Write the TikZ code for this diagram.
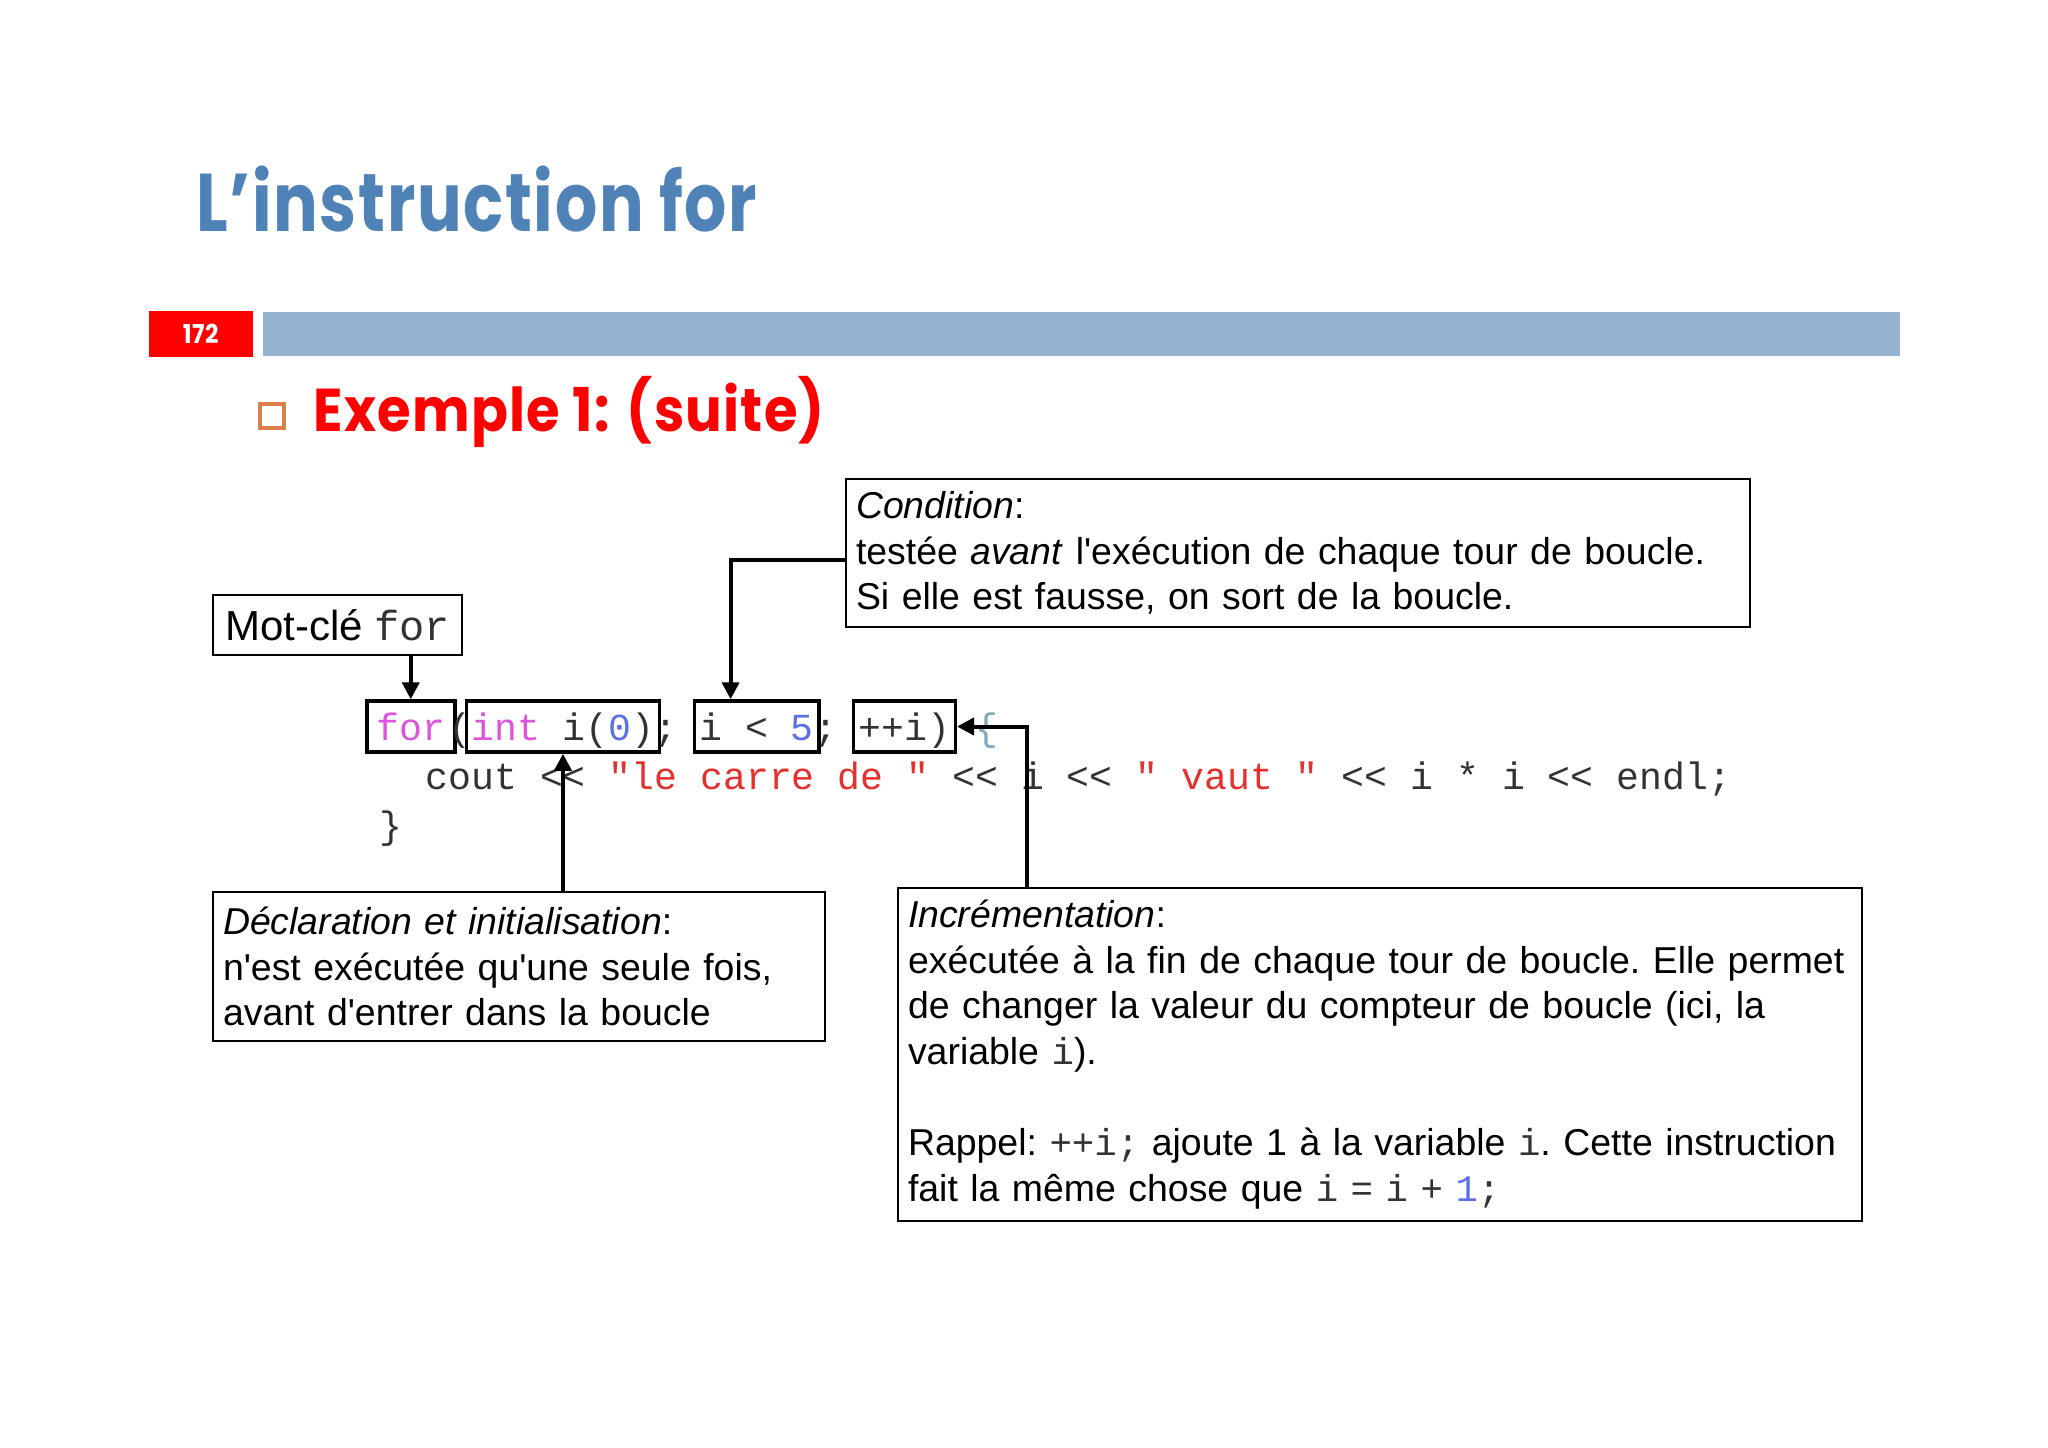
\documentclass[tikz,border=0pt]{standalone}
\usepackage{fontspec}
\usepackage{tikz}
\usetikzlibrary{arrows.meta, positioning}
\newfontfamily\notefont{Liberation Sans}
\newfontfamily\codefam{Liberation Mono}
\newfontfamily\headfont[FakeStretch=0.81, LetterSpace=2]{Poppins}
\newfontfamily\subfont[FakeStretch=0.9, LetterSpace=2]{Poppins}
\definecolor{titleblue}{HTML}{4F82B6}
\definecolor{barblue}{HTML}{95B3CF}
\definecolor{bulletorange}{HTML}{D9834A}
\definecolor{kwpink}{HTML}{DD55DD}
\definecolor{numblue}{HTML}{5B6FE6}
\definecolor{strred}{HTML}{E5302E}
\definecolor{codegray}{HTML}{333333}
\definecolor{bracegray}{HTML}{7FA9B8}
\newcommand{\tcode}[1]{{\codefam\color{codegray}#1}}
\hyphenpenalty=10000
\def\cw{22.9}

\begin{document}
\begin{tikzpicture}[x=0.1mm, y=-0.1mm,
    callout/.style = {
      rectangle, draw=black, line width=0.2mm,
      align=left, anchor=north west, inner xsep=1mm,
      font=\notefont\frenchspacing\fontsize{10.65pt}{13pt}\selectfont
    },
    codebox/.style = {
      rectangle, draw=black, line width=0.35mm, text=codegray,
      inner xsep=0.5mm, inner ysep=0.5mm,
      text height=3.4mm, text depth=0.7mm,
      anchor=base west, font=\codefam\frenchspacing\fontsize{10.86pt}{13pt}\selectfont
    },
    code/.style   = {anchor=base west, inner sep=0pt, text=codegray,
      font=\codefam\frenchspacing\fontsize{10.86pt}{13pt}\selectfont},
    arr/.style    = {-{Triangle[length=1.7mm, width=1.7mm]}, line width=0.4mm}
  ]
  \useasboundingbox (0,0) rectangle (2048,1447);
  \fill[white] (0,0) rectangle (2048,1447);

  % Slide header
  \node[anchor=base west, inner sep=0, text=titleblue,
        font=\headfont\bfseries\fontsize{23.3pt}{28pt}\selectfont] (title) at (196,231) {L’instruction for};
  \node[fill=red, anchor=north west, minimum width=10.4mm, minimum height=4.6mm, inner sep=0,
        text=white, font=\subfont\bfseries\fontsize{7.4pt}{9pt}\selectfont] (pagenum) at (148,310) {172};
  \node[fill=barblue, anchor=north west, minimum width=163.7mm, minimum height=4.4mm,
        inner sep=0] (bar) at (262,311) {};
  \node[draw=bulletorange, line width=0.4mm, anchor=north west, minimum size=2.4mm,
        inner sep=0] (bullet) at (258,402) {};
  \node[anchor=base west, inner sep=0, text=red,
        font=\subfont\bfseries\fontsize{17.2pt}{21pt}\selectfont] (sub) at (313,431) {Exemple 1: (suite)};

  % Code, line 1
  \node[codebox, minimum width=8.8mm] (forbox) at ({379-14},740) {\textcolor{kwpink}{for}};
  \node[code]    (lpar)   at ({379+3*\cw},740) {(};
  \node[codebox] (intbox) at ({379+4*\cw-6},740) {\textcolor{kwpink}{int} i(\textcolor{numblue}{0})};
  \node[code]    (semi1)  at ({379+12*\cw},740) {;};
  \node[codebox] (ltbox)  at ({379+14*\cw-7},740) {i < \textcolor{numblue}{5}};
  \node[code]    (semi2)  at ({379+19*\cw},740) {;};
  \node[codebox] (incbox) at ({379+21*\cw-8},740) {++i)};
  \node[code, text=bracegray] (lbrace) at ({379+26*\cw},740) {\{};

  % Code, lines 2 and 3
  \node[code] (line2) at ({379+2*\cw},789)
    {cout << \textcolor{strred}{"le carre de "} << i << \textcolor{strred}{" vaut "} << i * i << endl;};
  \node[code] (line3) at (379,838) {\}};

  % Callouts
  \node[draw=black, line width=0.2mm, anchor=north west, minimum width=24.9mm,
        minimum height=6mm, inner sep=0,
        font=\notefont\fontsize{11.95pt}{14pt}\selectfont] (mot) at (212,594) {Mot-clé \tcode{for}};

  \node[callout, text width=88.4mm, minimum height=14.8mm] (cond) at (845,478)
    {\textit{Condition}:\\
     testée \textit{avant} l'exécution de chaque tour de boucle.\\
     Si elle est fausse, on sort de la boucle.};

  \node[callout, text width=59.2mm, minimum height=14.9mm] (decl) at (212,891)
    {\textit{Déclaration et initialisation}:\\
     n'est exécutée qu'une seule fois,\\
     avant d'entrer dans la boucle};

  \node[callout, text width=94.4mm, minimum height=33.3mm] (incr) at (897,887)
    {\textit{Incrémentation}:\\
     exécutée à la fin de chaque tour de boucle. Elle permet\\
     de changer la valeur du compteur de boucle (ici, la\\
     variable \tcode{i}).\\[4.57mm]
     Rappel: \tcode{++i;} ajoute 1 à la variable \tcode{i}. Cette instruction\\
     fait la même chose que \tcode{i = i + \textcolor{numblue}{1};}};

  % Arrows
  \draw[arr] (forbox |- mot.south) -- (forbox.north);
  \draw[arr] ([yshift=-0.7mm]cond.west) -| ([xshift=3.8mm]ltbox.north west);
  \draw[arr] (intbox |- decl.north) -- (intbox.south);
  \draw[arr] ([xshift=13mm]incr.north west) |- (incbox.east);
\end{tikzpicture}
\end{document}
